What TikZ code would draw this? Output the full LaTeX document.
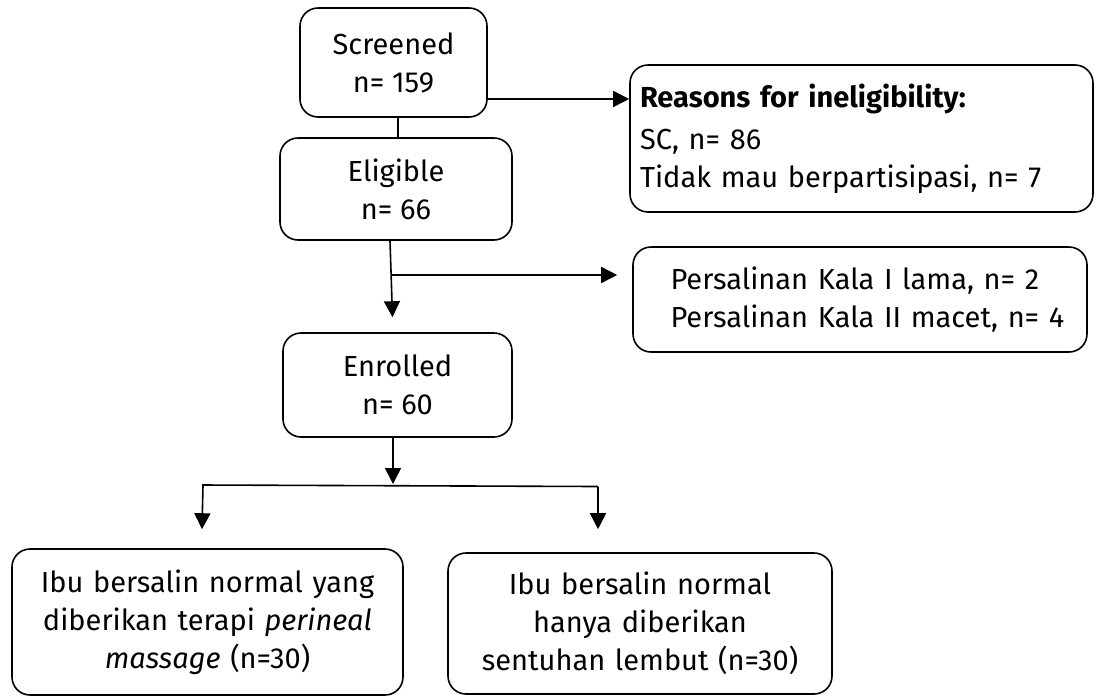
\documentclass[tikz,border=0pt]{standalone}
\usepackage{fontspec}
\setmainfont{Fira Sans}
\usetikzlibrary{arrows.meta,calc}
\begin{document}
\begin{tikzpicture}[x=1pt,y=-1pt,
  box/.style={draw,line width=1.6pt,rounded corners=18pt,inner sep=0pt,
    font=\fontsize{29}{38}\selectfont,align=center},
  line/.style={line width=1.6pt},
  arr/.style={line width=1.6pt,-{Triangle[length=16pt,width=16pt]}}]
\useasboundingbox (0,0) rectangle (1097,697);
\node[box,minimum width=187pt,minimum height=109pt] (scr) at (393.5,62.5) {Screened\\n= 159};
\node[box,minimum width=232pt,minimum height=102pt] (eli) at (396,189) {Eligible\\n= 66};
\node[box,minimum width=229pt,minimum height=104pt] (enr) at (397.5,385) {Enrolled\\n= 60};
\node[box,minimum width=463pt,minimum height=147pt,text width=443pt,inner xsep=10pt,align=left] (rea) at (861.5,138.5)
  {\textbf{Reasons for ineligibility:}\\[4pt]SC, n= 86\\Tidak mau berpartisipasi, n= 7};
\node[box,minimum width=454pt,minimum height=105pt,text width=429pt,inner xsep=0pt,align=left] (per) at (860,299.5)
  {\hspace*{25pt}Persalinan Kala I lama, n= 2\\\hspace*{25pt}Persalinan Kala II macet, n= 4};
\node[box,minimum width=391pt,minimum height=146pt,text width=381pt] (lft) at (207.5,622)
  {Ibu bersalin normal yang\\diberikan terapi \textit{perineal}\\\textit{massage} (n=30)};
\node[box,minimum width=384pt,minimum height=141pt,text width=374pt] (rgt) at (640,623.5)
  {Ibu bersalin normal\\hanya diberikan\\sentuhan lembut (n=30)};
% connectors
\draw[arr] ([yshift=-36.5pt]scr.east) -- ([yshift=-36.5pt]scr.east -| rea.west);
\draw[line] ([xshift=4.5pt]scr.south) -- ([xshift=4.5pt]scr.south |- eli.north);
\coordinate (br) at ([xshift=-5pt]eli.south |- 0,275);
\draw[arr] ([xshift=-6pt]eli.south) -- ([xshift=-5pt,yshift=15pt]enr.north);
\draw[arr] (br) -- ([xshift=-15pt]per.west |- br);
\coordinate (sl) at (202,485);
\coordinate (sr) at (598,486.5);
\draw[arr] ([xshift=-4.5pt]enr.south) -- ([xshift=-4.5pt]enr.south |- 0,484);
\draw[line] (sl) -- (sr);
\draw[arr] ([xshift=1pt]sl) -- ([yshift=19pt]lft.north -| sl);
\draw[arr] (sr) -- ([yshift=23pt]rgt.north -| sr);
\end{tikzpicture}
\end{document}
